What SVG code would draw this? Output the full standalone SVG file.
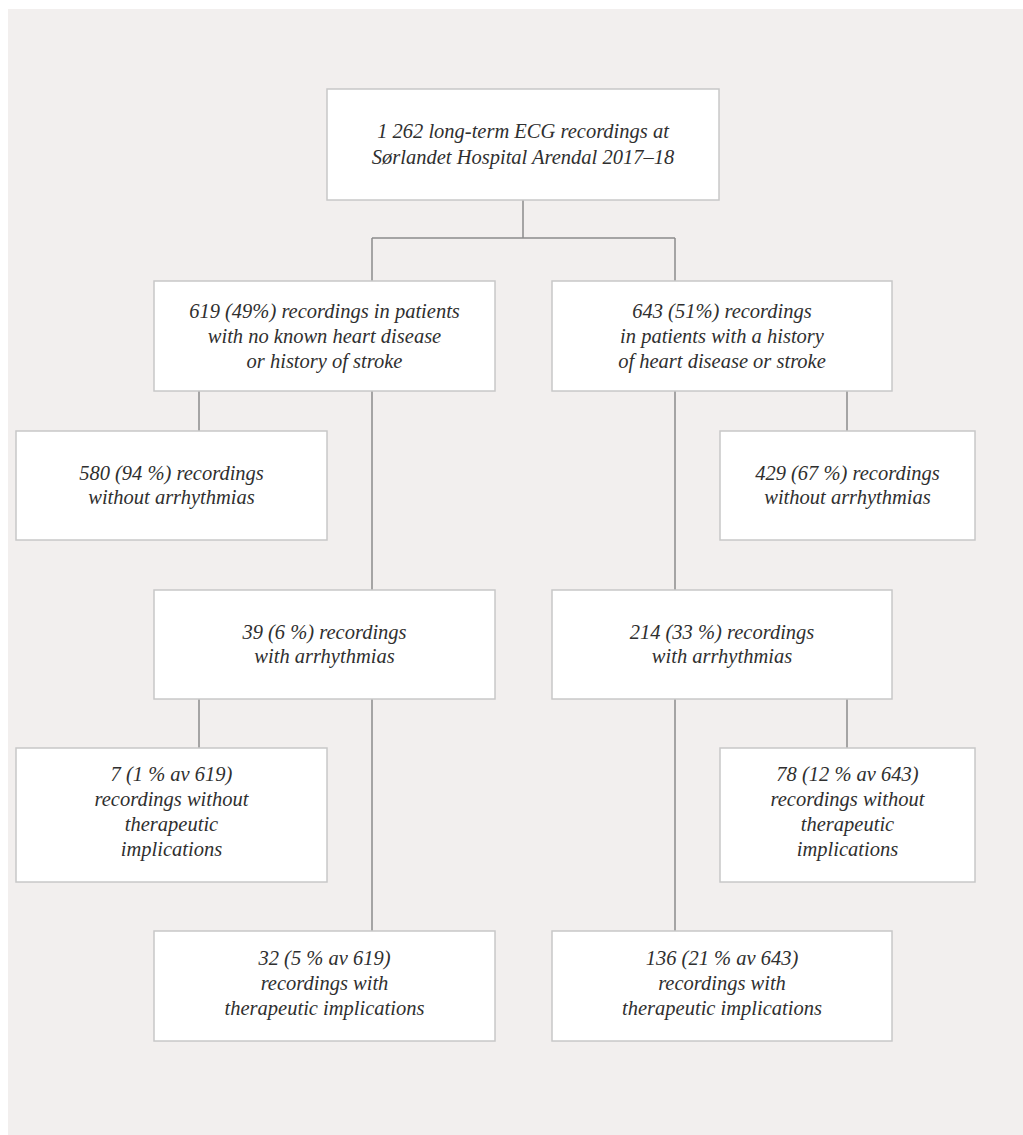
<svg xmlns="http://www.w3.org/2000/svg" width="1023" height="1135" viewBox="0 0 1023 1135">
<style>
.bg{fill:#f2efee}
.box{fill:#ffffff;stroke:#c8c8c8;stroke-width:1.5}
.t{font-family:"Liberation Serif","DejaVu Serif",serif;font-style:italic;font-size:20.5px;fill:#2f2f2f;text-anchor:middle}
.c{fill:none;stroke:#8c8c8c;stroke-width:1.5}
</style>
<rect x="0" y="0" width="1023" height="1135" fill="#ffffff"/>
<rect class="bg" x="8" y="9" width="1015" height="1126"/>
<g id="connectors">
<path class="c" d="M523,200 V238 M372,238 H675 M372,238 V281 M675,238 V281"/>
<path class="c" d="M199,391 V431 M372,391 V590 M847,391 V431 M675,391 V590"/>
<path class="c" d="M199,699 V748 M372,699 V931 M847,699 V748 M675,699 V931"/>
</g>
<g id="n_total">
<rect class="box" x="327" y="89" width="392" height="111"/>
<text class="t" x="523" y="138">1 262 long-term ECG recordings at</text>
<text class="t" x="523" y="164">Sørlandet Hospital Arendal 2017–18</text>
</g>
<g id="n_noheart">
<rect class="box" x="154" y="281" width="341" height="110"/>
<text class="t" x="324.5" y="318">619 (49%) recordings in patients</text>
<text class="t" x="324.5" y="343">with no known heart disease</text>
<text class="t" x="324.5" y="368">or history of stroke</text>
</g>
<g id="n_heart">
<rect class="box" x="552" y="281" width="340" height="110"/>
<text class="t" x="722" y="318">643 (51%) recordings</text>
<text class="t" x="722" y="343">in patients with a history</text>
<text class="t" x="722" y="368">of heart disease or stroke</text>
</g>
<g id="n_580">
<rect class="box" x="16" y="431" width="311" height="109"/>
<text class="t" x="171.5" y="480">580 (94 %) recordings</text>
<text class="t" x="171.5" y="504">without arrhythmias</text>
</g>
<g id="n_429">
<rect class="box" x="720" y="431" width="255" height="109"/>
<text class="t" x="847.5" y="480">429 (67 %) recordings</text>
<text class="t" x="847.5" y="504">without arrhythmias</text>
</g>
<g id="n_39">
<rect class="box" x="154" y="590" width="341" height="109"/>
<text class="t" x="324.5" y="639">39 (6 %) recordings</text>
<text class="t" x="324.5" y="663">with arrhythmias</text>
</g>
<g id="n_214">
<rect class="box" x="552" y="590" width="340" height="109"/>
<text class="t" x="722" y="639">214 (33 %) recordings</text>
<text class="t" x="722" y="663">with arrhythmias</text>
</g>
<g id="n_7">
<rect class="box" x="16" y="748" width="311" height="134"/>
<text class="t" x="171.5" y="781">7 (1 % av 619)</text>
<text class="t" x="171.5" y="806">recordings without</text>
<text class="t" x="171.5" y="831">therapeutic</text>
<text class="t" x="171.5" y="856">implications</text>
</g>
<g id="n_78">
<rect class="box" x="720" y="748" width="255" height="134"/>
<text class="t" x="847.5" y="781">78 (12 % av 643)</text>
<text class="t" x="847.5" y="806">recordings without</text>
<text class="t" x="847.5" y="831">therapeutic</text>
<text class="t" x="847.5" y="856">implications</text>
</g>
<g id="n_32">
<rect class="box" x="154" y="931" width="341" height="110"/>
<text class="t" x="324.5" y="965">32 (5 % av 619)</text>
<text class="t" x="324.5" y="990">recordings with</text>
<text class="t" x="324.5" y="1015">therapeutic implications</text>
</g>
<g id="n_136">
<rect class="box" x="552" y="931" width="340" height="110"/>
<text class="t" x="722" y="965">136 (21 % av 643)</text>
<text class="t" x="722" y="990">recordings with</text>
<text class="t" x="722" y="1015">therapeutic implications</text>
</g>
</svg>
